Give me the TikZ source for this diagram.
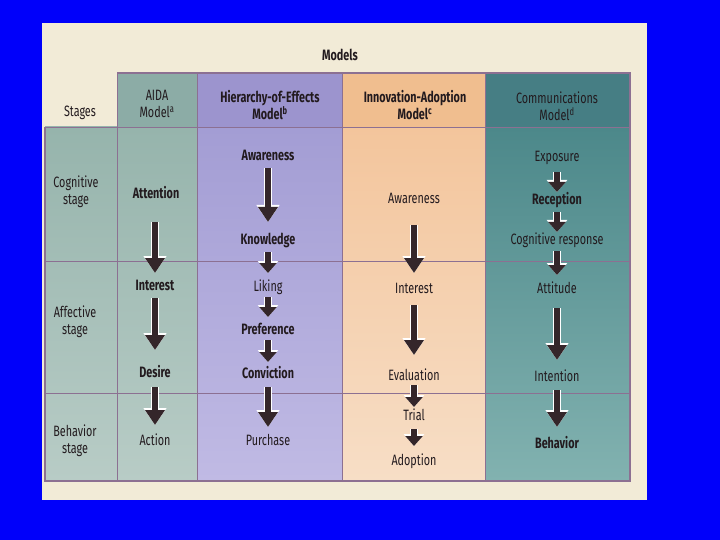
\documentclass[tikz,border=0pt]{standalone}
\usepackage{fontspec}
\setmainfont{Fira Sans}[FakeStretch=0.72]
\usetikzlibrary{arrows.meta}
\definecolor{slidebg}{RGB}{0,0,250}
\definecolor{paper}{RGB}{242,235,215}
\definecolor{gridc}{RGB}{140,112,146}
\definecolor{textc}{RGB}{34,26,30}
\definecolor{arrowc}{RGB}{52,38,42}
\definecolor{tealT}{RGB}{150,180,172}
\definecolor{tealB}{RGB}{184,204,198}
\definecolor{tealH}{RGB}{140,172,166}
\definecolor{lavT}{RGB}{163,157,212}
\definecolor{lavB}{RGB}{192,186,228}
\definecolor{lavH}{RGB}{156,148,206}
\definecolor{peaT}{RGB}{243,197,156}
\definecolor{peaB}{RGB}{247,222,198}
\definecolor{peaH}{RGB}{240,190,143}
\definecolor{comT}{RGB}{76,136,138}
\definecolor{comB}{RGB}{130,178,176}
\definecolor{comH}{RGB}{70,126,132}
\tikzset{
  lbl/.style={font=\fontsize{15}{17}\selectfont, text=textc, inner sep=0pt, align=center},
  blbl/.style={lbl, font=\fontsize{15}{17}\selectfont\bfseries},
  bigarrow/.style={draw=arrowc, line width=5.5pt,
    -{Triangle[width=19pt,length=15pt]},
    preaction={draw=white, line width=7.5pt, -{Triangle[width=22pt,length=17pt]}}},
  shortarrow/.style={draw=arrowc, line width=5.5pt,
    -{Triangle[width=17pt,length=10pt]},
    preaction={draw=white, line width=7.5pt, -{Triangle[width=20pt,length=12pt]}}},
  gridline/.style={draw=gridc, line width=0.9pt}
}
\begin{document}
\begin{tikzpicture}[x=1pt,y=-1pt]
\useasboundingbox (0,0) rectangle (720,540);
\fill[slidebg] (0,0) rectangle (720,540);
\fill[paper] (42,23) rectangle (647,500);
% column fills
\shade[top color=tealT, bottom color=tealB] (45,127) rectangle (197,481);
\fill[tealH] (117,73) rectangle (197,127);
\shade[top color=lavT, bottom color=lavB] (197,127) rectangle (342,481);
\fill[lavH] (197,73) rectangle (342,127);
\shade[top color=peaT, bottom color=peaB] (342,127) rectangle (485,481);
\fill[peaH] (342,73) rectangle (485,127);
\shade[top color=comT, bottom color=comB] (485,127) rectangle (630,481);
\fill[comH] (485,73) rectangle (630,127);
% grid
\draw[gridline] (45,127) -- (630,127);
\draw[gridline] (45,261) -- (630,261);
\draw[gridline] (45,393) -- (630,393);
\draw[gridline] (117,73) -- (117,481);
\draw[gridline] (197,73) -- (197,481);
\draw[gridline] (342,73) -- (342,481);
\draw[gridline] (485,73) -- (485,481);
\draw[gridline, line width=1.6pt] (45,127) -- (45,481) -- (630,481) -- (630,73) -- (117,73);
% headers
\node[blbl] (models) at (340,55) {Models};
\node[lbl] (stages) at (80,113) {Stages};
\node[lbl] (haida) at (157,104) {AIDA\\Model\textsuperscript{a}};
\node[blbl] (hhier) at (270,105) {Hierarchy-of-Effects\\Model\textsuperscript{b}};
\node[blbl] (hinno) at (415,105) {Innovation-Adoption\\Model\textsuperscript{c}};
\node[lbl] (hcomm) at (557,106) {Communications\\Model\textsuperscript{d}};
% stages
\node[lbl] (s1) at (76,192) {Cognitive\\stage};
\node[lbl] (s2) at (75,322) {Affective\\stage};
\node[lbl] (s3) at (75,441) {Behavior\\stage};
% AIDA
\node[blbl] (a1) at (156,193) {Attention};
\node[blbl] (a2) at (155,285) {Interest};
\node[blbl] (a3) at (155,372) {Desire};
\node[lbl] (a4) at (155,440) {Action};
% Hierarchy
\node[blbl] (h1) at (268,155) {Awareness};
\node[blbl] (h2) at (268,240) {Knowledge};
\node[lbl] (h3) at (268,287) {Liking};
\node[blbl] (h4) at (268,329) {Preference};
\node[blbl] (h5) at (268,373) {Conviction};
\node[lbl] (h6) at (268,440) {Purchase};
% Innovation
\node[lbl] (i1) at (414,198) {Awareness};
\node[lbl] (i2) at (414,288) {Interest};
\node[lbl] (i3) at (414,375) {Evaluation};
\node[lbl] (i4) at (414,415) {Trial};
\node[lbl] (i5) at (414,461) {Adoption};
% Communications
\node[lbl] (c1) at (557,158) {Exposure};
\node[blbl] (c2) at (557,200) {Reception};
\node[lbl] (c3) at (557,240) {Cognitive response};
\node[lbl] (c4) at (557,288) {Attitude};
\node[lbl] (c5) at (557,376) {Intention};
\node[blbl] (c6) at (557,443) {Behavior};
% arrows AIDA
\draw[bigarrow, shorten <=29pt, shorten >=12pt] (a1.center -| a2.center) -- (a2.center);
\draw[bigarrow, shorten <=13pt, shorten >=22pt] (a2.center) -- (a3.center);
\draw[bigarrow, shorten <=15pt, shorten >=15pt] (a3.center) -- (a4.center);
% arrows Hierarchy
\draw[bigarrow, shorten <=13pt, shorten >=18pt] (h1.center) -- (h2.center);
\draw[shortarrow, shorten <=12pt, shorten >=14pt] (h2.center) -- (h3.center);
\draw[shortarrow, shorten <=10pt, shorten >=12pt] (h3.center) -- (h4.center);
\draw[shortarrow, shorten <=11pt, shorten >=11pt] (h4.center) -- (h5.center);
\draw[bigarrow, shorten <=14pt, shorten >=13pt] (h5.center) -- (h6.center);
% arrows Innovation
\draw[bigarrow, shorten <=27pt, shorten >=15pt] (i1.center) -- (i2.center);
\draw[bigarrow, shorten <=17pt, shorten >=20pt] (i2.center) -- (i3.center);
\draw[shortarrow, shorten <=10pt, shorten >=8pt] (i3.center) -- (i4.center);
\draw[shortarrow, shorten <=14pt, shorten >=15pt] (i4.center) -- (i5.center);
% arrows Communications
\draw[shortarrow, shorten <=14pt, shorten >=8pt] (c1.center) -- (c2.center);
\draw[shortarrow, shorten <=12pt, shorten >=8pt] (c2.center) -- (c3.center);
\draw[shortarrow, shorten <=11pt, shorten >=13pt] (c3.center) -- (c4.center);
\draw[bigarrow, shorten <=20pt, shorten >=16pt] (c4.center) -- (c5.center);
\draw[bigarrow, shorten <=14pt, shorten >=16pt] (c5.center) -- (c6.center);
\end{tikzpicture}
\end{document}
